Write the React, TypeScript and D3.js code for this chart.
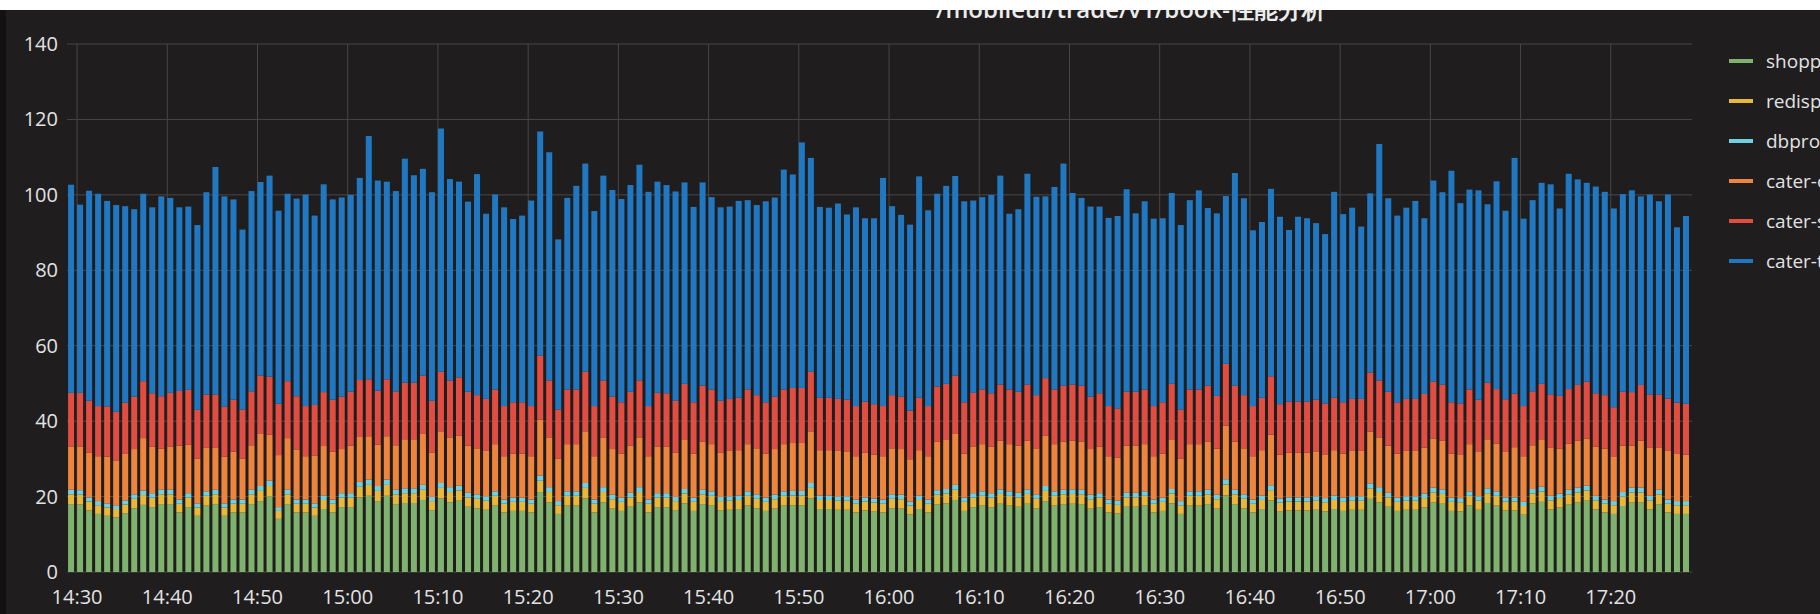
import React, { useEffect } from 'react';
import * as d3 from 'd3';

const W = 1820;
const H = 614;

const title = '/mobileui/trade/v1/book-性能分析';
const seriesNames = ['shopproxy', 'redisproxy', 'dbproxy', 'cater-order', 'cater-shop', 'cater-trade'];
const seriesColors = ['#7eb26d', '#eab839', '#6ed0e0', '#ef843c', '#e24d42', '#1f78c1'];
const yTicks = [0, 20, 40, 60, 80, 100, 120, 140];
// one bucket per minute, the first one at 14:29
const firstBucket = new Date(2018, 4, 10, 14, 29);

const shopp = [
  18.0, 17.9, 16.3, 15.4, 14.9, 14.5, 15.6, 16.9, 17.8, 17.2,
  18.0, 18.0, 15.8, 17.2, 14.9, 17.6, 18.0, 14.9, 15.8, 15.8,
  18.0, 18.8, 20.0, 14.1, 18.0, 15.8, 15.8, 14.9, 16.7, 15.8,
  17.2, 17.2, 19.8, 20.2, 18.8, 20.2, 18.0, 18.3, 18.3, 19.1,
  16.4, 19.5, 18.5, 18.9, 17.3, 16.9, 16.5, 17.6, 15.8, 16.2,
  16.2, 15.8, 21.2, 18.5, 15.4, 17.6, 17.6, 19.5, 15.8, 18.5,
  16.8, 16.2, 17.3, 18.5, 15.8, 17.2, 17.2, 16.4, 18.2, 16.2,
  18.0, 17.6, 16.4, 16.5, 16.7, 17.6, 16.9, 16.2, 16.8, 17.6,
  17.7, 17.7, 19.5, 16.7, 16.7, 16.5, 16.5, 15.8, 16.3, 16.0,
  15.8, 16.9, 16.8, 15.3, 16.7, 15.8, 17.9, 18.2, 19.1, 16.2,
  17.2, 17.6, 17.2, 18.1, 17.6, 17.3, 18.1, 16.9, 18.8, 17.6,
  18.0, 18.1, 18.0, 16.8, 17.2, 15.8, 15.5, 17.3, 17.3, 17.6,
  15.8, 16.2, 18.2, 15.4, 17.6, 17.6, 18.0, 16.8, 20.3, 18.0,
  16.9, 15.8, 16.7, 19.0, 16.0, 16.3, 16.3, 16.3, 16.5, 16.1,
  16.7, 16.2, 16.5, 16.5, 19.4, 18.5, 17.3, 16.2, 16.5, 16.5,
  17.1, 18.4, 18.1, 16.2, 16.1, 17.6, 16.5, 18.3, 17.6, 16.3,
  16.3, 15.2, 18.2, 18.6, 16.6, 17.1, 18.0, 18.4, 18.9, 16.6,
  15.8, 15.4, 17.5, 18.4, 18.4, 16.6, 18.0, 15.8, 15.4, 15.4,
];
const redisp = [
  2.6, 2.6, 2.4, 2.3, 2.2, 2.2, 2.3, 2.5, 2.6, 2.5,
  2.6, 2.6, 2.3, 2.5, 2.2, 2.6, 2.6, 2.2, 2.3, 2.3,
  2.6, 2.7, 2.8, 2.1, 2.6, 2.3, 2.3, 2.2, 2.4, 2.3,
  2.5, 2.5, 2.8, 2.9, 2.7, 2.9, 2.6, 2.6, 2.6, 2.7,
  2.4, 2.8, 2.7, 2.7, 2.5, 2.5, 2.4, 2.6, 2.3, 2.4,
  2.4, 2.3, 3.0, 2.7, 2.3, 2.6, 2.6, 2.8, 2.3, 2.7,
  2.5, 2.4, 2.5, 2.7, 2.3, 2.5, 2.5, 2.4, 2.6, 2.4,
  2.6, 2.6, 2.4, 2.4, 2.4, 2.6, 2.5, 2.4, 2.5, 2.6,
  2.6, 2.6, 2.8, 2.4, 2.4, 2.4, 2.4, 2.3, 2.4, 2.4,
  2.3, 2.5, 2.5, 2.3, 2.4, 2.3, 2.6, 2.6, 2.7, 2.4,
  2.5, 2.6, 2.5, 2.6, 2.6, 2.5, 2.6, 2.5, 2.7, 2.6,
  2.6, 2.6, 2.6, 2.5, 2.5, 2.3, 2.3, 2.5, 2.5, 2.6,
  2.3, 2.4, 2.6, 2.3, 2.6, 2.6, 2.6, 2.5, 2.9, 2.6,
  2.5, 2.3, 2.4, 2.7, 2.4, 2.4, 2.4, 2.4, 2.4, 2.4,
  2.4, 2.4, 2.4, 2.4, 2.8, 2.7, 2.5, 2.4, 2.4, 2.4,
  2.5, 2.7, 2.6, 2.4, 2.4, 2.6, 2.4, 2.6, 2.6, 2.4,
  2.4, 2.3, 2.6, 2.7, 2.4, 2.5, 2.6, 2.7, 2.7, 2.4,
  2.3, 2.3, 2.5, 2.7, 2.7, 2.4, 2.6, 2.3, 2.3, 2.3,
];
const dbpro = [
  1.2, 1.2, 1.1, 1.1, 1.1, 1.0, 1.1, 1.2, 1.2, 1.2,
  1.2, 1.2, 1.1, 1.2, 1.1, 1.2, 1.2, 1.1, 1.1, 1.1,
  1.2, 1.3, 1.4, 1.0, 1.2, 1.1, 1.1, 1.1, 1.2, 1.1,
  1.2, 1.2, 1.3, 1.4, 1.3, 1.4, 1.2, 1.3, 1.3, 1.3,
  1.1, 1.3, 1.3, 1.3, 1.2, 1.2, 1.2, 1.2, 1.1, 1.1,
  1.1, 1.1, 1.4, 1.3, 1.1, 1.2, 1.2, 1.3, 1.1, 1.3,
  1.2, 1.1, 1.2, 1.3, 1.1, 1.2, 1.2, 1.1, 1.2, 1.1,
  1.2, 1.2, 1.1, 1.2, 1.2, 1.2, 1.2, 1.1, 1.2, 1.2,
  1.2, 1.2, 1.3, 1.2, 1.2, 1.2, 1.2, 1.1, 1.1, 1.1,
  1.1, 1.2, 1.2, 1.1, 1.2, 1.1, 1.2, 1.2, 1.3, 1.1,
  1.2, 1.2, 1.2, 1.2, 1.2, 1.2, 1.2, 1.2, 1.3, 1.2,
  1.2, 1.2, 1.2, 1.2, 1.2, 1.1, 1.1, 1.2, 1.2, 1.2,
  1.1, 1.1, 1.2, 1.1, 1.2, 1.2, 1.2, 1.2, 1.4, 1.2,
  1.2, 1.1, 1.2, 1.3, 1.1, 1.1, 1.1, 1.1, 1.2, 1.1,
  1.2, 1.1, 1.2, 1.2, 1.3, 1.3, 1.2, 1.1, 1.2, 1.2,
  1.2, 1.3, 1.2, 1.1, 1.1, 1.2, 1.2, 1.3, 1.2, 1.1,
  1.1, 1.1, 1.2, 1.3, 1.2, 1.2, 1.2, 1.3, 1.3, 1.2,
  1.1, 1.1, 1.2, 1.3, 1.3, 1.2, 1.2, 1.1, 1.1, 1.1,
];
const caterA = [
  11.5, 11.6, 11.9, 11.9, 12.4, 11.9, 12.3, 12.0, 13.9, 12.3,
  10.9, 11.5, 14.3, 12.9, 11.8, 11.5, 11.1, 12.4, 12.7, 10.9,
  11.8, 13.8, 12.2, 13.8, 13.7, 13.3, 11.5, 12.7, 13.1, 12.7,
  11.7, 12.6, 11.9, 11.5, 11.0, 11.5, 11.8, 13.0, 13.0, 13.5,
  11.8, 13.7, 13.2, 13.3, 12.5, 12.2, 12.0, 12.5, 11.5, 11.7,
  11.7, 11.5, 14.8, 13.2, 11.3, 12.5, 12.5, 13.7, 11.5, 13.2,
  12.1, 11.7, 12.5, 13.2, 11.5, 12.4, 12.3, 11.8, 13.0, 11.7,
  12.8, 12.5, 11.8, 12.0, 12.0, 12.5, 12.2, 11.7, 12.1, 12.5,
  12.7, 12.7, 13.7, 12.0, 12.0, 12.0, 11.9, 11.5, 11.8, 11.6,
  11.5, 12.2, 12.1, 11.2, 12.0, 11.5, 12.8, 13.0, 13.5, 11.7,
  12.4, 12.5, 12.3, 12.9, 12.5, 12.5, 12.9, 12.2, 13.3, 12.5,
  12.8, 12.9, 12.8, 12.1, 12.3, 11.5, 11.4, 12.5, 12.5, 12.5,
  11.5, 11.7, 13.0, 11.3, 12.5, 12.5, 12.8, 12.2, 14.2, 12.8,
  12.2, 11.5, 12.0, 13.4, 11.6, 11.8, 11.8, 11.8, 11.9, 11.6,
  12.0, 11.7, 12.0, 12.0, 13.7, 13.2, 12.5, 11.7, 12.0, 12.0,
  12.2, 13.0, 12.9, 11.7, 11.6, 12.5, 11.9, 13.0, 12.6, 12.2,
  13.3, 12.1, 11.6, 12.4, 12.7, 11.9, 12.2, 12.4, 12.5, 13.0,
  13.5, 11.7, 12.3, 11.1, 12.4, 12.7, 11.1, 12.9, 12.5, 12.3,
];
const caterB = [
  14.2, 14.2, 13.7, 13.3, 13.3, 12.9, 13.6, 13.9, 15.1, 14.2,
  13.9, 14.2, 14.5, 14.5, 13.0, 14.1, 14.1, 13.3, 13.8, 13.0,
  14.3, 15.5, 15.4, 13.6, 15.1, 14.1, 13.3, 13.4, 14.3, 13.8,
  13.9, 14.3, 15.1, 15.1, 14.3, 15.1, 14.3, 15.0, 15.0, 15.5,
  13.7, 15.8, 15.1, 15.4, 14.3, 14.1, 13.8, 14.5, 13.3, 13.6,
  13.6, 13.3, 17.0, 15.1, 13.0, 14.5, 14.5, 15.8, 13.3, 15.1,
  13.9, 13.6, 14.3, 15.1, 13.3, 14.2, 14.2, 13.7, 14.9, 13.6,
  14.8, 14.5, 13.7, 13.8, 13.9, 14.5, 14.1, 13.6, 13.9, 14.5,
  14.6, 14.6, 15.8, 13.9, 13.9, 13.8, 13.7, 13.3, 13.6, 13.4,
  13.3, 14.1, 13.9, 12.9, 13.9, 13.3, 14.7, 14.9, 15.5, 13.6,
  14.2, 14.5, 14.2, 14.9, 14.5, 14.3, 14.9, 14.1, 15.3, 14.5,
  14.8, 14.9, 14.8, 13.9, 14.2, 13.3, 13.1, 14.3, 14.3, 14.5,
  13.3, 13.6, 14.9, 13.0, 14.5, 14.5, 14.8, 14.0, 16.4, 14.8,
  14.1, 13.3, 13.9, 15.5, 13.4, 13.6, 13.6, 13.6, 13.7, 13.5,
  13.9, 13.6, 13.8, 13.8, 15.7, 15.1, 14.3, 13.6, 13.8, 13.8,
  14.2, 15.1, 14.9, 13.6, 13.5, 14.5, 13.7, 15.0, 14.5, 13.8,
  14.2, 13.3, 14.3, 14.9, 14.2, 14.0, 14.5, 14.8, 15.1, 14.2,
  14.2, 13.2, 14.3, 14.2, 14.8, 14.2, 14.1, 13.9, 13.6, 13.5,
];
const caterC = [
  55.2, 49.9, 55.7, 56.3, 54.5, 54.8, 52.1, 49.7, 49.7, 49.3,
  53.0, 51.7, 48.7, 48.6, 49.0, 53.7, 60.4, 55.7, 53.1, 47.7,
  53.1, 51.3, 53.3, 51.2, 49.7, 52.4, 56.1, 50.2, 55.1, 53.1,
  52.8, 52.2, 53.6, 64.5, 55.7, 52.4, 53.1, 59.4, 55.0, 54.8,
  55.3, 64.5, 53.4, 51.9, 50.4, 58.6, 49.1, 51.7, 52.7, 48.6,
  49.5, 54.5, 59.4, 60.5, 45.1, 50.8, 54.0, 55.2, 51.7, 54.3,
  54.8, 53.9, 54.8, 57.2, 56.8, 56.0, 55.2, 55.5, 53.4, 51.8,
  53.9, 51.0, 51.3, 51.0, 52.2, 50.2, 50.4, 53.3, 52.8, 58.3,
  56.6, 65.1, 56.7, 50.6, 50.4, 51.8, 49.1, 52.7, 48.6, 49.3,
  60.5, 50.1, 48.2, 49.3, 58.7, 51.9, 51.1, 52.5, 52.9, 53.3,
  51.0, 51.0, 52.6, 55.4, 46.6, 48.4, 55.9, 52.6, 48.2, 53.7,
  58.9, 50.8, 49.8, 50.4, 49.5, 49.9, 51.0, 53.7, 47.3, 49.9,
  49.7, 48.8, 50.6, 48.9, 50.2, 52.8, 47.1, 48.4, 44.5, 56.4,
  52.2, 46.6, 46.6, 49.7, 49.7, 45.5, 49.0, 48.6, 46.8, 44.9,
  54.6, 49.9, 50.7, 45.7, 47.5, 62.7, 51.3, 49.5, 50.7, 52.5,
  46.6, 53.3, 51.0, 61.4, 53.1, 53.0, 55.5, 47.3, 55.1, 50.0,
  62.5, 49.7, 50.7, 53.3, 55.7, 49.7, 57.1, 54.5, 52.7, 54.8,
  53.9, 52.7, 52.4, 53.5, 50.0, 53.0, 51.3, 54.1, 46.5, 49.8,
];

const keys = ['shopp', 'redisp', 'dbpro', 'caterA', 'caterB', 'caterC'];
const columns: Record<string, number[]> = { shopp, redisp, dbpro, caterA, caterB, caterC };

const plot = { left: 67, right: 1692, top: 44, bottom: 572 };
const textColor = '#e2e2e3';
const gridColor = '#484646';
const font = '"Open Sans", "Noto Sans", sans-serif';

export default function App() {
  useEffect(() => {
    document.body.style.margin = '0';
    document.body.style.overflow = 'hidden';
  }, []);

  const rows = caterC.map((_, i) => {
    const r: any = { t: d3.timeMinute.offset(firstBucket, i) };
    keys.forEach(k => { r[k] = columns[k][i]; });
    return r;
  });

  const x = d3.scaleTime()
    .domain([d3.timeSecond.offset(firstBucket, -7), d3.timeMinute.offset(firstBucket, rows.length)])
    .range([plot.left, plot.right]);
  const y = d3.scaleLinear().domain([0, 140]).range([plot.bottom, plot.top]);

  const stacked = d3.stack<any>().keys(keys)(rows);
  const barW = (x(d3.timeMinute.offset(firstBucket, 1)) - x(firstBucket)) / 1.5;
  const xTicks = x.ticks(d3.timeMinute.every(10) as any);
  const fmt = d3.timeFormat('%H:%M');

  return (
    <svg width={W} height={H} style={{ position: 'absolute', left: 0, top: 0, display: 'block' }} fontFamily={font}>
      <rect x={0} y={0} width={W} height={H} fill="#1f1d1d" />
      <rect x={0} y={0} width={6} height={H} fill="#131212" />

      <g>
        {yTicks.map(v => (
          <line key={'h' + v} x1={plot.left} x2={plot.right} y1={y(v)} y2={y(v)} stroke={gridColor} strokeWidth={1} />
        ))}
        {xTicks.map(t => (
          <line key={'v' + +t} x1={x(t)} x2={x(t)} y1={plot.top} y2={plot.bottom} stroke={gridColor} strokeWidth={1} />
        ))}
      </g>

      {stacked.map((layer, si) => (
        <g key={layer.key} fill={seriesColors[si]}>
          {layer.map((d, i) => (
            <rect key={i} x={x(rows[i].t)} y={y(d[1])} width={barW} height={Math.max(0, y(d[0]) - y(d[1]))} />
          ))}
        </g>
      ))}

      <g fontSize={20} fontWeight={500} fill={textColor}>
        {yTicks.map(v => (
          <text key={'yl' + v} x={58} y={y(v) + 7} textAnchor="end">{v}</text>
        ))}
        {xTicks.map(t => (
          <text key={'xl' + +t} x={x(t)} y={604} textAnchor="middle">{fmt(t)}</text>
        ))}
      </g>

      <g fontSize={19} fontWeight={500} fill={textColor}>
        {seriesNames.map((name, i) => (
          <g key={name} transform={`translate(0, ${61 + i * 40})`}>
            <rect x={1729} y={-2} width={24} height={4} fill={seriesColors[i]} />
            <text x={1766} y={7}>{name}</text>
          </g>
        ))}
      </g>

      <text x={1131} y={18} textAnchor="middle" fontSize={24} fontWeight={600} fill="#ececec">{title}</text>
      <rect x={0} y={0} width={W} height={10} fill="#ffffff" />
    </svg>
  );
}
